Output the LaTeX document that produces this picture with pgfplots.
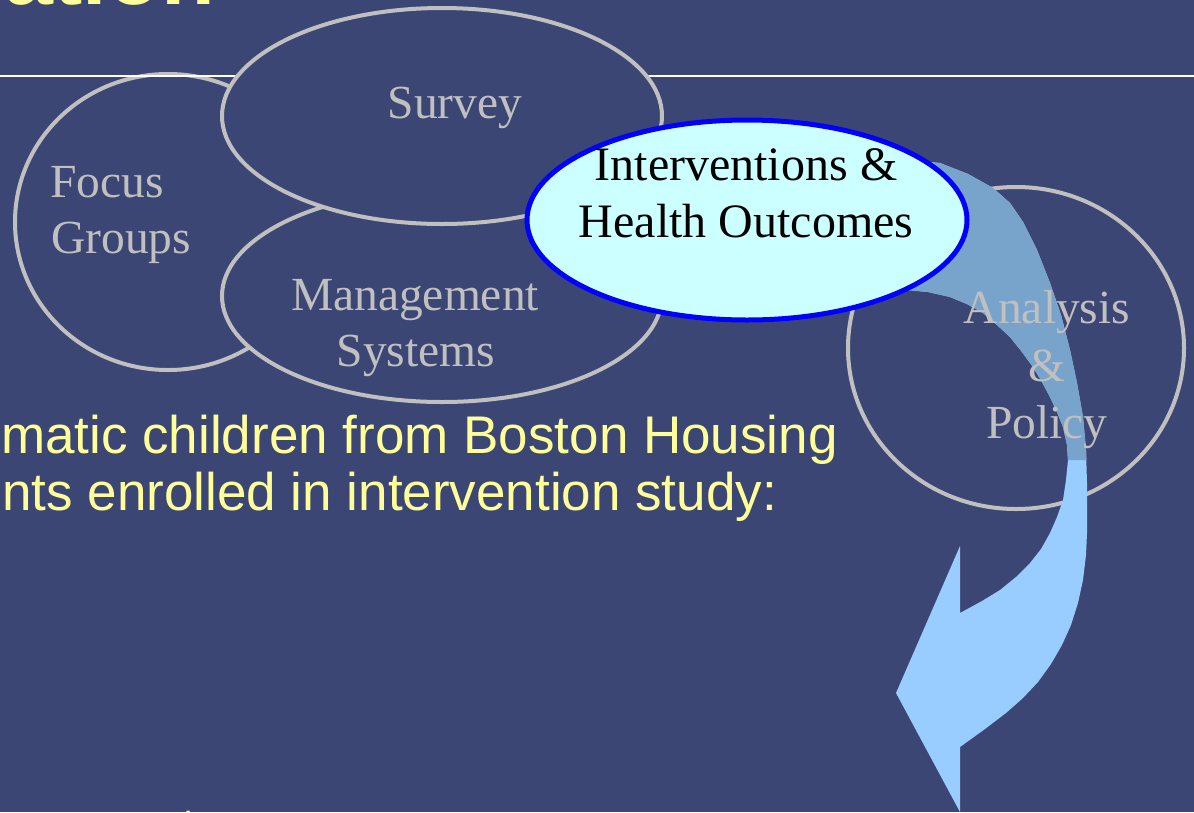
\documentclass[border=0pt]{standalone}
\usepackage{pgfplots}
\pgfplotsset{compat=1.18}
\usepackage{fontspec}
\setmainfont{Liberation Serif}
\newfontfamily\arial{Liberation Sans}
\definecolor{bg}{RGB}{60,70,116}
\definecolor{yel}{RGB}{255,255,153}
\definecolor{ringgray}{RGB}{192,192,192}
\definecolor{arrowlight}{RGB}{153,204,255}
\definecolor{arrowdark}{RGB}{120,164,204}
\definecolor{intfill}{RGB}{204,255,255}
\begin{document}
\begin{tikzpicture}
\begin{axis}[width=1194pt, height=812pt, scale only axis,
  xmin=0, xmax=1194, ymin=0, ymax=812, y dir=reverse,
  hide axis, clip=true]
% background
\addplot[fill=bg, draw=none] coordinates {(0,0) (1194,0) (1194,812) (0,812)} -- cycle;
% title fragment
\node[anchor=base east, inner sep=0pt, text=yel, font=\arial\bfseries\fontsize{88}{90}\selectfont] at (axis cs:215,4) {ation};
% Focus Groups ellipse
\filldraw[fill=bg, draw=ringgray, line width=4pt] (axis cs:168,222) ellipse [x radius=153, y radius=148];
% white rule
\addplot[white, line width=2pt] coordinates {(0,75.5) (1194,75.5)};
% Management Systems
\filldraw[fill=bg, draw=ringgray, line width=4pt] (axis cs:442,296) ellipse [x radius=220, y radius=106];
% Survey
\filldraw[fill=bg, draw=ringgray, line width=4pt] (axis cs:442,116) ellipse [x radius=220, y radius=108];
% Analysis & Policy
\filldraw[fill=bg, draw=ringgray, line width=4pt] (axis cs:1016,348) ellipse [x radius=168, y radius=161];
% arrow
\addplot[fill=arrowlight, draw=none] coordinates {
(900,160) (920,161) (940,163) (968,174) (993,188) (1010,203) (1023,222) (1037,250)
(1050,283) (1061,315) (1070,350) (1077,383) (1083,417) (1086,450) (1087,483) (1087,510)
(1087,533) (1086,555) (1083,580) (1078,603) (1071,625) (1062,645) (1051,664) (1038,682)
(1023,698) (1006,713) (985,729) (960,747)
(960,812) (896,693) (960,546) (960,613)
(982,601) (1000,590) (1016,577) (1030,563) (1041,549) (1050,533) (1057,517) (1063,500)
(1066,480) (1068,460) (1067,445) (1063,427) (1057,412) (1050,397) (1042,382) (1033,367)
(1022,352) (1010,337) (997,325) (983,313) (967,304) (950,297) (928,292) (907,290) (880,285)
} -- cycle;
\addplot[fill=arrowdark, draw=none] coordinates {
(900,160) (920,161) (940,163) (968,174) (993,188) (1010,203) (1023,222) (1037,250)
(1050,283) (1061,315) (1070,350) (1077,383) (1083,417) (1086,450) (1086.5,460)
(1068,460) (1067,445) (1063,427) (1057,412) (1050,397) (1042,382) (1033,367)
(1022,352) (1010,337) (997,325) (983,313) (967,304) (950,297) (928,292) (907,290) (880,285)
} -- cycle;
% Interventions ellipse
\filldraw[fill=intfill, draw=blue, line width=5pt] (axis cs:747,220) ellipse [x radius=220, y radius=100];
% texts
\node[anchor=base, inner sep=0pt, text=ringgray, font=\fontsize{47.5}{57}\selectfont] at (axis cs:455,118) {Survey};
\node[anchor=base west, inner sep=0pt, text=ringgray, font=\fontsize{47.5}{57}\selectfont] at (axis cs:50,197) {Focus};
\node[anchor=base west, inner sep=0pt, text=ringgray, font=\fontsize{47.5}{57}\selectfont] at (axis cs:51,253) {Groups};
\node[anchor=base, inner sep=0pt, text=ringgray, font=\fontsize{47.5}{57}\selectfont] at (axis cs:415,310) {Management};
\node[anchor=base, inner sep=0pt, text=ringgray, font=\fontsize{47.5}{57}\selectfont] at (axis cs:416,366) {Systems};
\node[anchor=base, inner sep=0pt, text=ringgray, font=\fontsize{47.5}{57}\selectfont] at (axis cs:1047,323) {Analysis};
\node[anchor=base, inner sep=0pt, text=ringgray, font=\fontsize{47.5}{57}\selectfont] at (axis cs:1047,381) {\&};
\node[anchor=base, inner sep=0pt, text=ringgray, font=\fontsize{47.5}{57}\selectfont] at (axis cs:1047,438) {Policy};
\node[anchor=base, inner sep=0pt, text=black, font=\fontsize{48}{57}\selectfont] at (axis cs:746,180) {Interventions \&};
\node[anchor=base, inner sep=0pt, text=black, font=\fontsize{48}{57}\selectfont] at (axis cs:746,237) {Health Outcomes};
\node[anchor=base west, inner sep=0pt, text=yel, font=\arial\fontsize{53}{57}\selectfont] at (axis cs:1,453) {matic children from Boston Housing};
\node[anchor=base west, inner sep=0pt, text=yel, font=\arial\fontsize{53}{57}\selectfont] at (axis cs:2,510) {nts enrolled in intervention study:};
\node[anchor=base west, inner sep=0pt, text=yel, font=\arial\fontsize{53}{57}\selectfont] at (axis cs:181,845) {t};
\end{axis}
\pgfresetboundingbox
\useasboundingbox (current axis.south west) rectangle (current axis.north east);
\end{tikzpicture}
\end{document}
